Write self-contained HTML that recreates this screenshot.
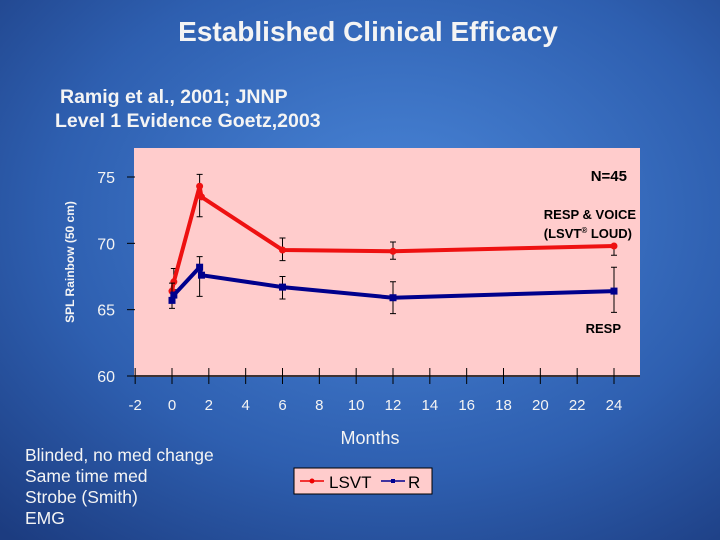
<!DOCTYPE html>
<html><head><meta charset="utf-8"><style>
body{margin:0;width:720px;height:540px;overflow:hidden;font-family:"Liberation Sans",sans-serif}
</style></head><body>
<svg width="720" height="540" xmlns="http://www.w3.org/2000/svg">
<defs>
<radialGradient id="bg" cx="0.55" cy="0.4" r="0.8">
<stop offset="0" stop-color="#4a86d8"/><stop offset="0.6" stop-color="#2e5fb0"/><stop offset="1" stop-color="#1c3c80"/>
</radialGradient>
</defs>
<rect width="720" height="540" fill="url(#bg)"/>
<text x="368" y="41" text-anchor="middle" font-size="28" font-weight="bold" fill="#f4f4f4">Established Clinical Efficacy</text>
<text x="60" y="103" font-size="19.5" font-weight="bold" fill="#f4f4f4">Ramig et al., 2001; JNNP</text>
<text x="55" y="127" font-size="19.5" font-weight="bold" fill="#f4f4f4">Level 1 Evidence Goetz,2003</text>
<rect x="134" y="148" width="506" height="229" fill="#ffcccc"/>
<g id="axes"></g>
<g id="marks"></g>
<text x="627" y="181" text-anchor="end" font-size="15" font-weight="bold" fill="#000">N=45</text>
<text x="636" y="219" text-anchor="end" font-size="13" font-weight="bold" fill="#000">RESP &amp; VOICE</text>
<text x="632" y="238" text-anchor="end" font-size="13" font-weight="bold" fill="#000">(LSVT<tspan font-size="8" dy="-5">®</tspan><tspan dy="5"> LOUD)</tspan></text>
<text x="621" y="333" text-anchor="end" font-size="13" font-weight="bold" fill="#000">RESP</text>
<text x="74" y="262" transform="rotate(-90 74 262)" text-anchor="middle" font-size="12" font-weight="bold" fill="#f4f4f4">SPL Rainbow (50 cm)</text>
<text x="370" y="444" text-anchor="middle" font-size="18" fill="#f4f4f4">Months</text>
<g>
<rect x="294" y="468" width="138" height="26" fill="#ffcccc" stroke="#000" stroke-width="1"/>
<line x1="300" y1="481" x2="324" y2="481" stroke="#e00" stroke-width="1.5"/>
<circle cx="312" cy="481" r="2.5" fill="#e00"/>
<text x="329" y="488" font-size="17" fill="#000">LSVT</text>
<line x1="381" y1="481" x2="405" y2="481" stroke="#000090" stroke-width="1.5"/>
<rect x="391" y="479" width="4" height="4" fill="#000090"/>
<text x="408" y="488" font-size="17" fill="#000">R</text>
</g>
<g font-size="17.5" fill="#f4f4f4">
<text x="25" y="461">Blinded, no med change</text>
<text x="25" y="482">Same time med</text>
<text x="25" y="503">Strobe (Smith)</text>
<text x="25" y="524">EMG</text>
</g>
</svg>
<script>
const months=[0,0.1,1.5,1.6,6,12,24];
const lsvt=[66.4,67.1,74.3,73.5,69.5,69.4,69.8];
const lsvtLo=[null,66.5,72.0,null,68.7,68.8,69.1];
const lsvtHi=[null,68.1,75.2,null,70.4,70.1,69.8];
const resp=[65.7,66.1,68.2,67.6,66.7,65.9,66.4];
const respLo=[65.1,null,66.0,null,65.8,64.7,64.8];
const respHi=[67.0,null,69.0,null,67.5,67.1,68.2];
const xTicks=[-2,0,2,4,6,8,10,12,14,16,18,20,22,24];
const yTicks=[60,65,70,75];
const NS="http://www.w3.org/2000/svg";
function X(m){return 172+(m)*(614-172)/24;}
function Y(v){return 376-(v-60)*(376-177)/15;}
function mk(tag,attrs,parent){const e=document.createElementNS(NS,tag);for(const k in attrs)e.setAttribute(k,attrs[k]);parent.appendChild(e);return e;}
const ax=document.getElementById('axes'),mg=document.getElementById('marks');
let a=mk('line',{x1:134,y1:Y(60),x2:640,y2:Y(60),stroke:'#000','stroke-width':1.5},ax);


xTicks.forEach(t=>{
 mk('line',{x1:X(t),y1:Y(60)-8,x2:X(t),y2:Y(60)+8,stroke:'#000'},ax);
 const tx=mk('text',{x:X(t),y:410,'text-anchor':'middle','font-size':15,fill:'#f4f4f4'},ax);
 tx.textContent=t;
 
 
});
yTicks.forEach(t=>{
 mk('line',{x1:127,y1:Y(t),x2:135,y2:Y(t),stroke:'#000'},ax);
 const tx=mk('text',{x:115,y:Y(t)+6,'text-anchor':'end','font-size':16,fill:'#f4f4f4'},ax);
 tx.textContent=t;
 
 
});
function series(vals,lo,hi,color,name,sq){
 lo.forEach((l,i)=>{if(l==null)return;
  const x=X(months[i]);
  const e=mk('path',{d:`M${x},${Y(l)}V${Y(hi[i])}M${x-3},${Y(l)}h6M${x-3},${Y(hi[i])}h6`,stroke:'#000','stroke-width':1,fill:'none'},mg);
  
  
 });
 const p=mk('polyline',{points:vals.map((v,i)=>X(months[i])+','+Y(v)).join(' '),fill:'none',stroke:color,'stroke-width':4,'stroke-linejoin':'round'},mg);
 
 
 vals.forEach((v,i)=>{
  const e=sq?mk('rect',{x:X(months[i])-3.5,y:Y(v)-3.5,width:7,height:7,fill:color},mg):mk('circle',{cx:X(months[i]),cy:Y(v),r:3.5,fill:color},mg);
  
  
 });
}
series(lsvt,lsvtLo,lsvtHi,'#ee1111','lsvt',false);
series(resp,respLo,respHi,'#00008c','resp',true);
</script>
</body></html>
